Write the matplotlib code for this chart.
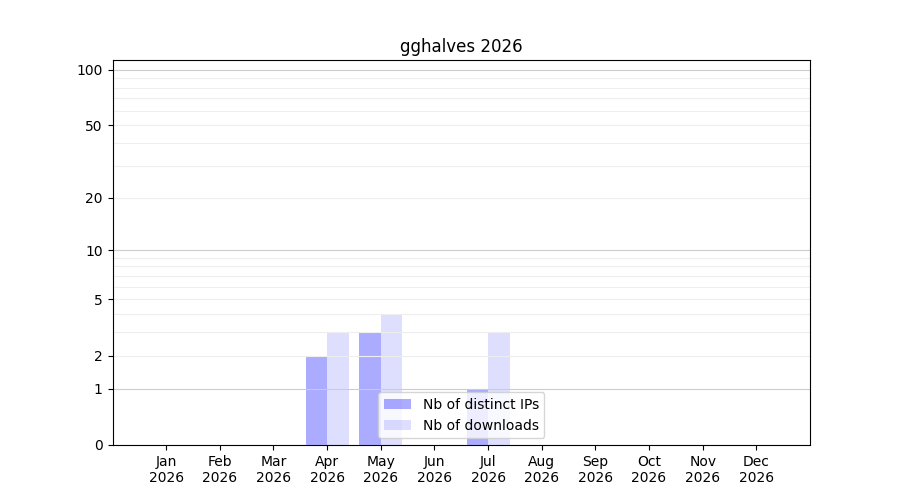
import numpy as np
import matplotlib
matplotlib.use('Agg')
import matplotlib.pyplot as plt

year = 2026
months = ['Jan', 'Feb', 'Mar', 'Apr', 'May', 'Jun', 'Jul', 'Aug', 'Sep', 'Oct', 'Nov', 'Dec']
distinct_ips = [0, 0, 0, 2, 3, 0, 1, 0, 0, 0, 0, 0]
downloads = [0, 0, 0, 3, 4, 0, 3, 0, 0, 0, 0, 0]


def forward(y):
    return np.log10(1 + np.clip(y, -0.99, None))


def inverse(y):
    return 10 ** y - 1


fig, ax = plt.subplots(figsize=(9, 5), dpi=100)
x = np.arange(len(months))
w = 0.4
ax.bar(x - w, distinct_ips, width=w, align='edge', color='blue', alpha=0.33,
       label='Nb of distinct IPs')
ax.bar(x, downloads, width=w, align='edge', color='blue', alpha=0.13,
       label='Nb of downloads')

ax.set_yscale('function', functions=(forward, inverse))
ax.set_ylim(0, 113)
ax.set_xlim(-1, 12)

major = [0, 1, 2, 5, 10, 20, 50, 100]
minor = [3, 4, 6, 7, 8, 9, 30, 40, 60, 70, 80, 90]
ax.set_yticks(major)
ax.set_yticklabels([str(v) for v in major])
ax.set_yticks(minor, minor=True)
ax.yaxis.set_minor_formatter(plt.NullFormatter())
ax.grid(axis='y', which='major')
ax.grid(axis='y', which='minor', color='#eeeeee', linewidth=0.8)
ax.tick_params(axis='y', which='minor', left=False, length=0)
for v, gl in zip(major, ax.get_ygridlines()):
    if v in (1, 10, 100):
        gl.set_color('#cccccc')
    else:
        gl.set_color('#eeeeee')
    gl.set_linewidth(0.8)
ax.set_axisbelow('line')
for s in ax.spines.values():
    s.set_zorder(3)

ax.set_xticks(x)
ax.set_xticklabels(['%s\n%d' % (m, year) for m in months])
ax.set_title('gghalves %d' % year)
ax.legend(loc='lower center')

plt.savefig('out.png')
